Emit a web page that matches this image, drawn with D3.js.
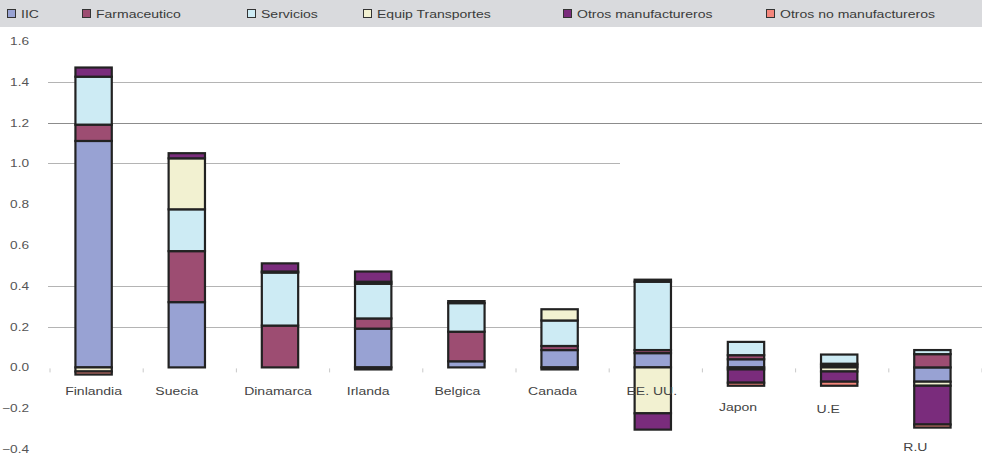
<!DOCTYPE html>
<html>
<head>
<meta charset="utf-8">
<script src="https://cdn.jsdelivr.net/npm/d3@7"></script>
<style>
  body { margin: 0; background: #fff; }
  svg { display: block; font-family: 'Liberation Sans', Arial, sans-serif; }
</style>
</head>
<body>
<svg id="chart" width="982" height="459"></svg>
<script>
const categories = ['Finlandia', 'Suecia', 'Dinamarca', 'Irlanda', 'Belgica', 'Canada', 'EE. UU.', 'Japon', 'U.E', 'R.U'];
const seriesNames = ['IIC', 'Farmaceutico', 'Servicios', 'Equip Transportes', 'Otros manufactureros', 'Otros no manufactureros'];
const iic = [1.11, 0.32, 0, 0.19, 0.03, 0.085, 0.07, 0.04, 0.01, -0.07];
const farmaceutico = [0.08, 0.25, 0.205, 0.05, 0.145, 0.02, 0.015, 0.02, 0.008, 0.065];
const servicios = [0.235, 0.205, 0.26, 0.17, 0.14, 0.125, 0.335, 0.065, 0.045, 0.02];
const equipTransportes = [-0.02, 0.25, 0.005, 0.01, 0, 0.055, -0.225, -0.01, -0.02, -0.02];
const otrosManuf = [0.045, 0.025, 0.04, 0.05, 0.01, 0, -0.08, -0.065, -0.05, -0.19];
const otrosNoManuf = [-0.015, 0, 0, -0.01, 0, -0.01, 0.01, -0.015, -0.02, -0.015];
const yTicks = [1.6, 1.4, 1.2, 1.0, 0.8, 0.6, 0.4, 0.2, 0.0, -0.2, -0.4];

const colours = ['#98a2d3', '#9d4d72', '#cdebf4', '#f2f1d1', '#7a2c7c', '#f4867c'];
const legendX = [7, 82, 247, 363, 563, 766];
// labels in the original were nudged by hand
const labelDx = [0, -10, -2, -5, -9, -7, -1, -8, -11, -17];
const labelY = [395, 395, 395, 395, 395, 395, 395, 411, 413, 451];
const stretch = 1.22; // source text is drawn wide

const svg = d3.select('#chart');
const seriesValues = [iic, farmaceutico, servicios, equipTransportes, otrosManuf, otrosNoManuf];
const table = categories.map((c, i) => {
  const row = { category: c };
  seriesNames.forEach((s, j) => { row[s] = seriesValues[j][i]; });
  return row;
});

const x = d3.scaleBand().domain(categories).range([47, 979]).paddingInner(0.61).paddingOuter(0.305);
const y = d3.scaleLinear().domain([-0.4, 1.6]).range([449, 41]);

function wideText(sel, tx, ty, sx) {
  return sel.attr('transform', 'translate(' + tx + ',' + ty + ') scale(' + sx + ',1)');
}

// legend band
svg.append('rect').attr('x', 0).attr('y', 0).attr('width', 982).attr('height', 27).attr('fill', '#d9dadd');
const legend = svg.append('g');
seriesNames.forEach((s, i) => {
  legend.append('rect')
    .attr('x', legendX[i] + 0.5).attr('y', 9.5).attr('width', 8).attr('height', 8)
    .attr('fill', colours[i]).attr('stroke', '#333').attr('stroke-width', 1);
  wideText(legend.append('text'), legendX[i] + 14, 17.5, stretch)
    .attr('font-size', 11.5).attr('fill', '#3a3a3a')
    .text(s);
});

// gridlines
const grid = svg.append('g');
[0.2, 0.4, 1.2, 1.4].forEach((v) => {
  grid.append('line')
    .attr('x1', 48).attr('x2', 982)
    .attr('y1', Math.round(y(v)) + 0.5).attr('y2', Math.round(y(v)) + 0.5)
    .attr('stroke', v === 1.2 ? '#8c8c8c' : '#b4b4b4').attr('stroke-width', 1.2);
});
grid.append('line')
  .attr('x1', 48).attr('x2', 620)
  .attr('y1', Math.round(y(1.0)) + 0.5).attr('y2', Math.round(y(1.0)) + 0.5)
  .attr('stroke', '#b4b4b4').attr('stroke-width', 1.2);

// y labels
svg.append('g').selectAll('text')
  .data(yTicks)
  .join('text')
  .each(function (d) { wideText(d3.select(this), 29, y(d) + 4, 1.3); })
  .attr('text-anchor', 'end')
  .attr('font-size', 10.5).attr('fill', '#555')
  .text((d) => d3.format('.1f')(d));

// ticks on zero line
svg.append('g').selectAll('line')
  .data(d3.range(categories.length + 1))
  .join('line')
  .attr('x1', (d) => 50 + d * x.step()).attr('x2', (d) => 50 + d * x.step())
  .attr('y1', y(0) + 1).attr('y2', y(0) + 5)
  .attr('stroke', '#c8c8c8');

const stacked = d3.stack()
  .keys(seriesNames)
  .order(d3.stackOrderNone)
  .offset(d3.stackOffsetDiverging)(table);

svg.append('g').selectAll('g')
  .data(stacked)
  .join('g')
  .attr('fill', (d, i) => colours[i])
  .selectAll('rect')
  .data((d) => d.filter((p) => p[1] - p[0] !== 0))
  .join('rect')
  .attr('x', (d) => x(d.data.category))
  .attr('width', x.bandwidth())
  .attr('y', (d) => y(Math.max(d[0], d[1])))
  .attr('height', (d) => Math.abs(y(d[0]) - y(d[1])))
  .attr('stroke', '#222')
  .attr('stroke-width', 2.2);

// category labels
svg.append('g').selectAll('text')
  .data(categories)
  .join('text')
  .each(function (d, i) {
    wideText(d3.select(this), x(d) + x.bandwidth() / 2 + labelDx[i], labelY[i], stretch);
  })
  .attr('text-anchor', 'middle')
  .attr('font-size', 11.5).attr('fill', '#444')
  .text((d) => d);
</script>
</body>
</html>
